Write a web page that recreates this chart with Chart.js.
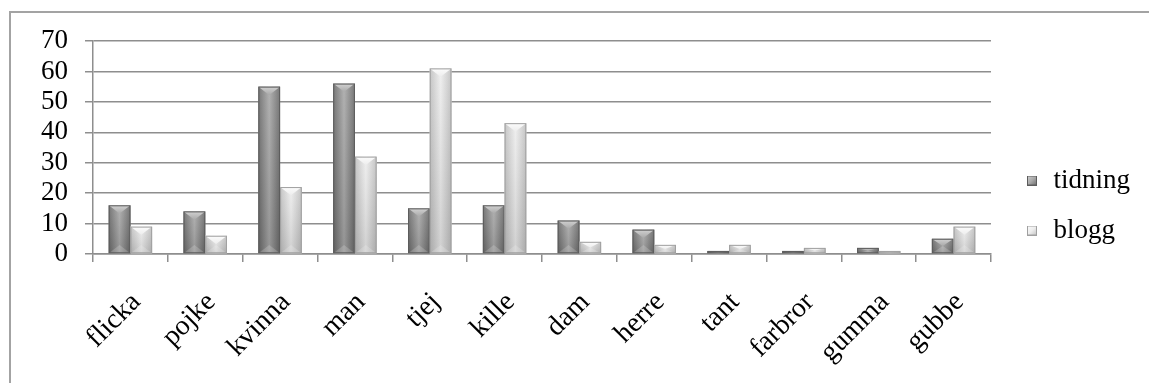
<!DOCTYPE html>
<html>
<head>
<meta charset="utf-8">
<script src="https://cdn.jsdelivr.net/npm/chart.js@4.4.1/dist/chart.umd.min.js"></script>
<style>
  html, body { margin: 0; padding: 0; background: #fff; overflow: hidden; }
  #frame {
    position: absolute; left: 9px; top: 11px; width: 1300px; height: 500px;
    border-top: 2px solid #a3a3a3; border-left: 2px solid #a3a3a3;
  }
  #myChart { position: absolute; left: 0; top: 0; }
</style>
</head>
<body>
<div id="frame"></div>
<canvas id="myChart" width="1149" height="383"></canvas>
<script>
const words = ['flicka', 'pojke', 'kvinna', 'man', 'tjej', 'kille', 'dam', 'herre', 'tant', 'farbror', 'gumma', 'gubbe'];
const tidning = [16, 14, 55, 56, 15, 16, 11, 8, 1, 1, 2, 5];
const blogg = [9, 6, 22, 32, 61, 43, 4, 3, 3, 2, 1, 9];
const yTicks = [0, 10, 20, 30, 40, 50, 60, 70];

const FONT = { family: '"Liberation Serif", serif', size: 27 };
const X_FONT = { family: '"Liberation Serif", serif', size: 28 };
const GRID = '#8e8e8e';

// grey shading for each series: sides, middle, top bevel, outline
const looks = [
  { edge: '#6a6a6a', mid: '#a9a9a9', top: '#d2d2d2', line: '#5c5c5c' },
  { edge: '#c0c0c0', mid: '#ededed', top: '#fcfcfc', line: '#a0a0a0' },
];

// little bevelled squares for the legend, drawn off-screen
function legendIcon(look) {
  const c = document.createElement('canvas');
  c.width = 26; c.height = 10;
  const g = c.getContext('2d');
  const grad = g.createLinearGradient(13, 0, 23, 10);
  grad.addColorStop(0, look.top);
  grad.addColorStop(0.5, look.mid);
  grad.addColorStop(1, look.edge);
  g.fillStyle = grad;
  g.fillRect(13, 0, 10, 10);
  g.strokeStyle = look.line;
  g.strokeRect(13.5, 0.5, 9, 9);
  return c;
}
const icons = looks.map(legendIcon);

// paints each bar as a bevelled grey column on top of the plain fill
const bevelBars = {
  id: 'bevelBars',
  afterDatasetsDraw(chart) {
    const ctx = chart.ctx;
    ctx.save();
    chart.data.datasets.forEach((ds, i) => {
      const look = looks[i];
      chart.getDatasetMeta(i).data.forEach((bar) => {
        const { x, y, base, width } = bar.getProps(['x', 'y', 'base', 'width'], true);
        const l = x - width / 2;
        const r = x + width / 2;
        const t = Math.min(y, base);
        const b = Math.max(y, base);
        const h = b - t;
        if (h <= 0) return;
        const d = Math.min(width * 0.38, h / 2);

        const body = ctx.createLinearGradient(l, 0, r, 0);
        body.addColorStop(0, look.edge);
        body.addColorStop(0.5, look.mid);
        body.addColorStop(1, look.edge);
        ctx.fillStyle = body;
        ctx.fillRect(l, t, width, h);

        const shade = ctx.createLinearGradient(0, t, 0, b);
        shade.addColorStop(0, 'rgba(255,255,255,0.10)');
        shade.addColorStop(1, 'rgba(0,0,0,0.12)');
        ctx.fillStyle = shade;
        ctx.fillRect(l, t, width, h);

        ctx.beginPath();
        ctx.moveTo(l, t);
        ctx.lineTo(r, t);
        ctx.lineTo(x, t + d);
        ctx.closePath();
        const cap = ctx.createLinearGradient(0, t, 0, t + d);
        cap.addColorStop(0, look.top);
        cap.addColorStop(1, look.mid);
        ctx.fillStyle = cap;
        ctx.fill();

        ctx.beginPath();
        ctx.moveTo(l, b);
        ctx.lineTo(r, b);
        ctx.lineTo(x, b - d);
        ctx.closePath();
        ctx.fillStyle = 'rgba(255,255,255,0.18)';
        ctx.fill();

        ctx.strokeStyle = look.line;
        ctx.lineWidth = 1;
        ctx.strokeRect(l + 0.5, t + 0.5, width - 1, h - 1);
      });
    });
    ctx.restore();
  },
};

const ctx = document.getElementById('myChart').getContext('2d');
const myChart = new Chart(ctx, {
  type: 'bar',
  data: {
    labels: words,
    datasets: [
      { label: 'tidning', data: tidning, backgroundColor: looks[0].mid, borderWidth: 0 },
      { label: 'blogg', data: blogg, backgroundColor: looks[1].mid, borderWidth: 0 },
    ],
  },
  options: {
    responsive: false,
    animation: false,
    devicePixelRatio: 1,
    categoryPercentage: 0.58,
    barPercentage: 1,
    layout: { padding: { top: 41, right: 9, bottom: 13, left: 10 } },
    plugins: {
      tooltip: { enabled: false },
      legend: {
        position: 'right',
        labels: {
          font: FONT,
          color: '#000',
          padding: 23,
          usePointStyle: true,
          pointStyleWidth: 26,
          generateLabels(chart) {
            const items = Chart.defaults.plugins.legend.labels.generateLabels(chart);
            items.forEach((item, i) => { item.pointStyle = icons[i]; });
            return items;
          },
        },
      },
    },
    scales: {
      x: {
        grid: { drawOnChartArea: false, drawTicks: true, tickLength: 8, color: GRID, lineWidth: 1.5 },
        border: { color: GRID, width: 1.5 },
        ticks: { font: X_FONT, color: '#000', autoSkip: false, minRotation: 45, maxRotation: 45, padding: 24, labelOffset: 6 },
        afterFit(scale) { scale.height = 116; },
      },
      y: {
        min: 0,
        max: 70,
        grid: { color: GRID, lineWidth: 1.5, tickLength: 8 },
        border: { color: GRID, width: 1.5 },
        ticks: { font: FONT, color: '#000', padding: 17, autoSkip: false },
        afterBuildTicks(scale) { scale.ticks = yTicks.map((v) => ({ value: v })); },
        afterFit(scale) { scale.width = 83; },
      },
    },
  },
  plugins: [bevelBars],
});
</script>
</body>
</html>
